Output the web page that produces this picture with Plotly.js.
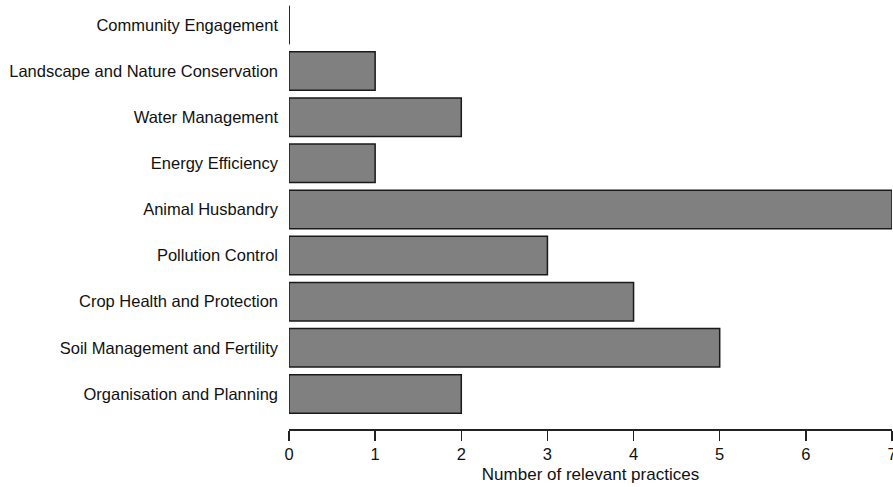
<!DOCTYPE html>
<html>
<head>
<meta charset="utf-8">
<script src="https://cdn.plot.ly/plotly-3.0.1.min.js"></script>
<style>html,body{margin:0;padding:0;background:#fff;}#chart{width:893px;height:487px;}</style>
</head>
<body>
<div id="chart"></div>
<script>
var categories = [
  "Organisation and Planning",
  "Soil Management and Fertility",
  "Crop Health and Protection",
  "Pollution Control",
  "Animal Husbandry",
  "Energy Efficiency",
  "Water Management",
  "Landscape and Nature Conservation",
  "Community Engagement"
];
var practices = [2, 5, 4, 3, 7, 1, 2, 1, 0];
var xTicks = [0, 1, 2, 3, 4, 5, 6, 7];
var xTitle = "Number of relevant practices";

var bargap = 0.166;
var trace = {
  type: "bar",
  orientation: "h",
  x: practices,
  y: categories,
  marker: { color: "#808080", line: { color: "#1a1a1a", width: 1.5 } },
  hoverinfo: "x+y"
};

// zero-valued bars drawn as an outline line at the base
var shapes = [];
practices.forEach(function (v, i) {
  if (v === 0) {
    var half = (1 - bargap) / 2;
    shapes.push({
      type: "line", xref: "x", yref: "y",
      x0: 0, x1: 0, y0: i - half, y1: i + half,
      line: { color: "#1a1a1a", width: 1.5 }
    });
  }
});

var layout = {
  width: 893, height: 487,
  margin: { l: 289, r: 1, t: 0, b: 58 },
  paper_bgcolor: "#fff", plot_bgcolor: "#fff",
  font: { family: "Liberation Sans, Arial, sans-serif", size: 16.5, color: "#111" },
  bargap: bargap,
  showlegend: false,
  shapes: shapes,
  xaxis: {
    range: [0, 7],
    tickvals: xTicks,
    ticktext: xTicks.map(String),
    ticklabeloverflow: "allow",
    showgrid: false, zeroline: false,
    showline: true, linecolor: "#222", linewidth: 1.5,
    ticks: "outside", ticklen: 10, tickwidth: 1.5, tickcolor: "#222",
    tickfont: { size: 16.5 },
    title: { text: xTitle, font: { size: 17 }, standoff: 6 },
    fixedrange: true
  },
  yaxis: {
    type: "category",
    categoryorder: "array", categoryarray: categories,
    range: [-0.76, 8.54],
    showgrid: false, zeroline: false, showline: false,
    ticks: "", ticklabelstandoff: 10,
    tickfont: { size: 16.5 },
    fixedrange: true
  }
};

Plotly.newPlot("chart", [trace], layout, { displayModeBar: false, staticPlot: true });
</script>
</body>
</html>
